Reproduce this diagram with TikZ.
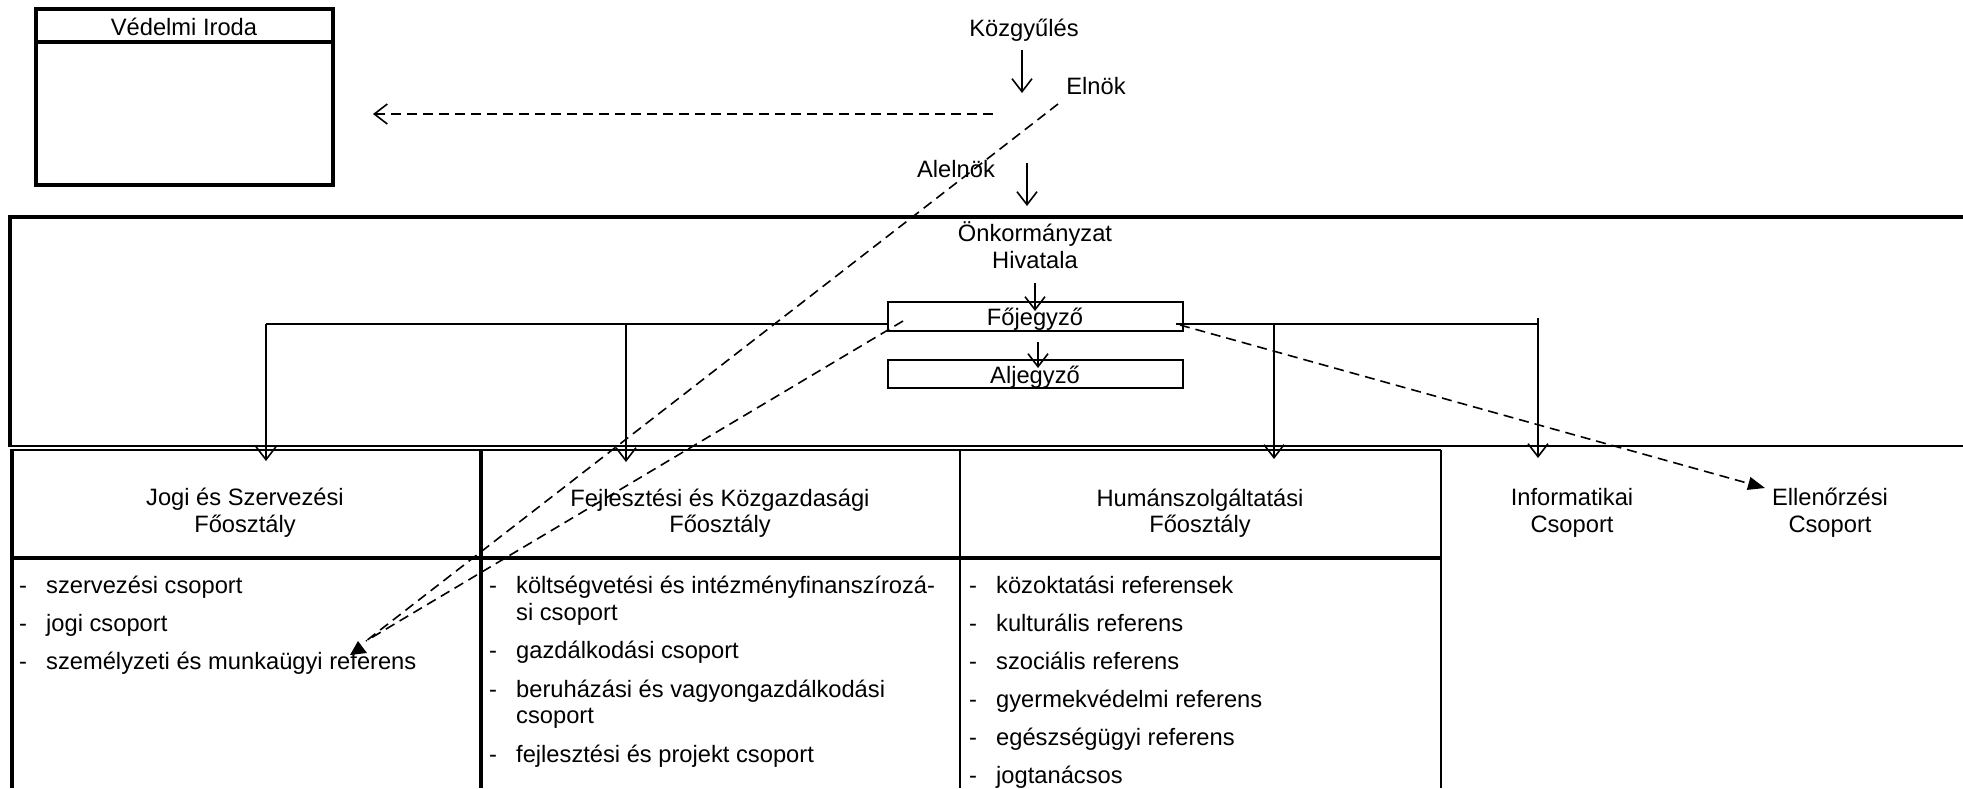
\documentclass[tikz,border=0pt]{standalone}
\usepackage{fontspec}
\setmainfont{Liberation Sans}
\usetikzlibrary{arrows.meta}
\newcommand\lblfont{\fontsize{23.7}{27}\selectfont}
\tikzset{
 thinln/.style={line width=1.6pt},
 thickln/.style={line width=4.6pt},
 dashln/.style={line width=1.6pt, dash pattern=on 10pt off 6pt},
 openarr/.style={-{Straight Barb[length=13pt,width=20pt,line width=1.6pt]}},
 fillarr/.style={-{Triangle[length=17pt,width=13pt]}},
 lbl/.style={font=\lblfont, inner sep=0pt, anchor=base},
 itm/.style={font=\lblfont, inner sep=0pt, anchor=base west},
}
\begin{document}
\begin{tikzpicture}[x=1pt,y=-1pt]
\useasboundingbox (0,0) rectangle (1963,788);
\fill[white] (0,0) rectangle (1963,788);

% Vedelmi Iroda
\draw[thickln] (36,9) rectangle (333,185);
\draw[thickln] (36,42) -- (333,42);
\node[lbl] (vedelmi) at (184,35) {Védelmi Iroda};

% top labels
\node[lbl] (kozgy) at (1024,36) {Közgyűlés};
\node[lbl] (elnok) at (1096,94) {Elnök};
\node[lbl] (alelnok) at (956,177) {Alelnök};
\node[lbl] (onk1) at (1035,241) {Önkormányzat};
\node[lbl] (onk2) at (1035,268) {Hivatala};

% coordinates for connectors
\coordinate (kozgyS) at (1022,50);
\coordinate (kozgyE) at (1022,93);
\coordinate (alelS) at (1027,163);
\coordinate (alelE) at (1027,206);
\coordinate (onkS) at (1035,283);
\coordinate (onkE) at (1035,311);
\coordinate (fojS) at (1038,342);
\coordinate (fojE) at (1038,368);
\coordinate (vedS) at (993,114);
\coordinate (vedE) at (373,114);
\coordinate (elnokS) at (1058,104);
\coordinate (fojL) at (903,321);
\coordinate (fojR) at (1180,325);
\coordinate (refT) at (366,641);
\coordinate (ellT) at (1765,488);

% big frame
\draw[thickln] (1963,217) -- (10,217) -- (10,447);
\draw[thinln] (10,446) -- (1963,446);

% Fojegyzo / Aljegyzo
\draw[thinln, line width=2pt] (888,302) rectangle (1183,331);
\node[lbl] (fojegyzo) at (1035,325) {Főjegyző};
\draw[thinln, line width=2pt] (888,360) rectangle (1183,388);
\node[lbl] (aljegyzo) at (1035,383) {Aljegyző};

% distribution lines
\coordinate (dL1) at (266,324);
\coordinate (dL2) at (626,324);
\coordinate (dL3) at (888,324);
\coordinate (dR1) at (1176,324);
\coordinate (dR2) at (1274,324);
\coordinate (dR3) at (1538,324);
\coordinate (dR3t) at (1538,318);
\coordinate (jogiT) at (266,461);
\coordinate (fejlT) at (626,462);
\coordinate (humT) at (1274,459);
\coordinate (infT) at (1538,458);
\draw[thinln] (dL1) -- (dL3);
\draw[thinln] (dR1) -- (dR3);
\draw[thinln, openarr] (dL1) -- (jogiT);
\draw[thinln, openarr] (dL2) -- (fejlT);
\draw[thinln, openarr] (dR2) -- (humT);
\draw[thinln, openarr] (dR3t) -- (infT);

% department boxes
\draw[thinln] (10,450) -- (1441,450);
\draw[thickln] (10,558) -- (1441,558);
\draw[thickln] (12,450) -- (12,788);
\draw[thickln] (481,450) -- (481,788);
\draw[thinln] (960,450) -- (960,788);
\draw[thinln] (1441,450) -- (1441,788);

\node[lbl] (jogiH1) at (245,505) {Jogi és Szervezési};
\node[lbl] (jogiH2) at (245,532) {Főosztály};
\node[lbl] (fejlH1) at (720,506) {Fejlesztési és Közgazdasági};
\node[lbl] (fejlH2) at (720,532) {Főosztály};
\node[lbl] (humH1) at (1200,506) {Humánszolgáltatási};
\node[lbl] (humH2) at (1200,532) {Főosztály};
\node[lbl] (infH1) at (1572,505) {Informatikai};
\node[lbl] (infH2) at (1572,532) {Csoport};
\node[lbl] (ellH1) at (1830,505) {Ellenőrzési};
\node[lbl] (ellH2) at (1830,532) {Csoport};

% Jogi items
\node[itm] (jd1) at (19,593) {-};
\node[itm] (jt1) at (46,593) {szervezési csoport};
\node[itm] (jd2) at (19,631) {-};
\node[itm] (jt2) at (46,631) {jogi csoport};
\node[itm] (jd3) at (19,669) {-};
\node[itm] (jt3) at (46,669) {személyzeti és munkaügyi referens};

% Fejl items
\node[itm] (fd1) at (489,593) {-};
\node[itm] (ft1) at (516,593) {költségvetési és intézményfinanszírozá-};
\node[itm] (ft1b) at (516,620) {si csoport};
\node[itm] (fd2) at (489,658) {-};
\node[itm] (ft2) at (516,658) {gazdálkodási csoport};
\node[itm] (fd3) at (489,697) {-};
\node[itm] (ft3) at (516,697) {beruházási és vagyongazdálkodási};
\node[itm] (ft3b) at (516,723) {csoport};
\node[itm] (fd4) at (489,762) {-};
\node[itm] (ft4) at (516,762) {fejlesztési és projekt csoport};

% Human items
\node[itm] (hd1) at (969,593) {-};
\node[itm] (ht1) at (996,593) {közoktatási referensek};
\node[itm] (hd2) at (969,631) {-};
\node[itm] (ht2) at (996,631) {kulturális referens};
\node[itm] (hd3) at (969,669) {-};
\node[itm] (ht3) at (996,669) {szociális referens};
\node[itm] (hd4) at (969,707) {-};
\node[itm] (ht4) at (996,707) {gyermekvédelmi referens};
\node[itm] (hd5) at (969,745) {-};
\node[itm] (ht5) at (996,745) {egészségügyi referens};
\node[itm] (hd6) at (969,783) {-};
\node[itm] (ht6) at (996,783) {jogtanácsos};

% vertical arrows
\draw[thinln, openarr] (kozgyS) -- (kozgyE);
\draw[thinln, openarr] (alelS) -- (alelE);
\draw[thinln, openarr] (onkS) -- (onkE);
\draw[thinln, openarr] (fojS) -- (fojE);

% dashed connectors
\draw[dashln, openarr] (vedS) -- (vedE);
\draw[dashln] (elnokS) -- (refT);
\draw[dashln] (fojL) -- (refT);
\fill (358,641) -- (350,655) -- (367,653) -- cycle;
\draw[dashln, fillarr] (fojR) -- (ellT);
\end{tikzpicture}
\end{document}
